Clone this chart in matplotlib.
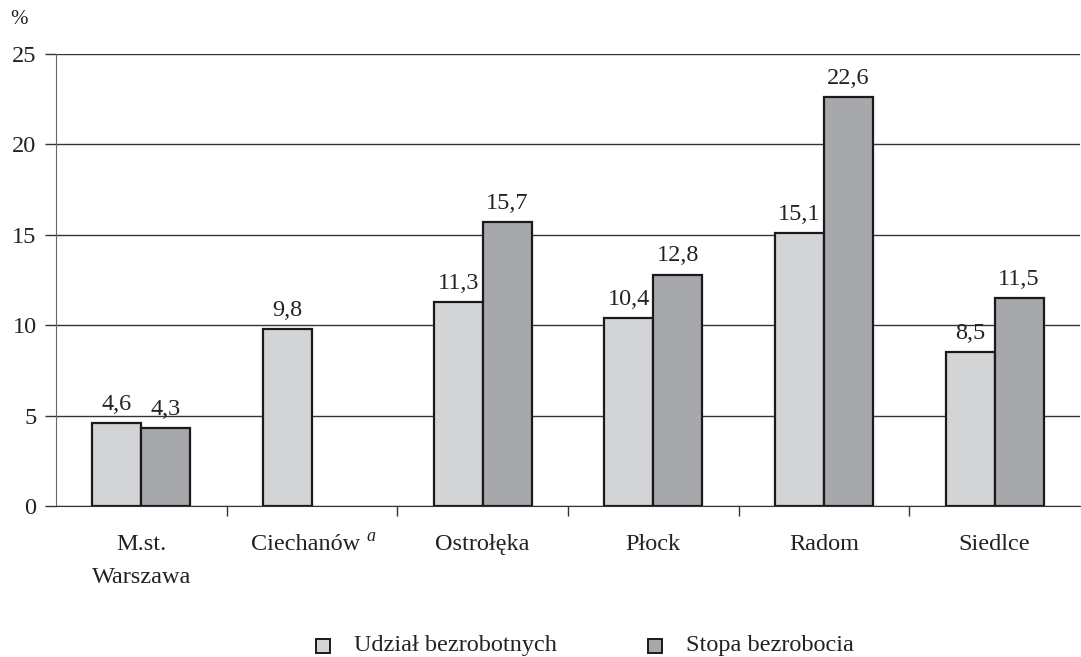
import matplotlib
matplotlib.use("Agg")
import matplotlib.pyplot as plt
from matplotlib.patches import Rectangle
import numpy as np

categories = ["M.st.\nWarszawa", "Ciechanów", "Ostrołęka", "Płock", "Radom", "Siedlce"]
udzial = [4.6, 9.8, 11.3, 10.4, 15.1, 8.5]
stopa = [4.3, None, 15.7, 12.8, 22.6, 11.5]
series_names = ["Udział bezrobotnych", "Stopa bezrobocia"]
yticks = [0, 5, 10, 15, 20, 25]

plt.rcParams["font.family"] = ["Liberation Serif", "DejaVu Serif"]
light = "#d3d4d6"
dark = "#a7a8ab"
ink = "#222"

fig = plt.figure(figsize=(10.81, 6.57), dpi=100)
ax = fig.add_axes([56 / 1081, 1 - 506 / 657, 1024 / 1081, 452 / 657])

x = np.arange(len(categories))
w = 0.287
for i in range(len(categories)):
    v = udzial[i]
    ax.bar(x[i] - w / 2, v, w, color=light, edgecolor="#1a1a1a", linewidth=1.6, zorder=3)
    ax.text(x[i] - w / 2, v + 0.45, f"{v:.1f}".replace(".", ","), ha="center", va="bottom",
            fontsize=17.5, color=ink)
    s = stopa[i]
    if s is not None:
        ax.bar(x[i] + w / 2, s, w, color=dark, edgecolor="#1a1a1a", linewidth=1.6, zorder=3)
        ax.text(x[i] + w / 2, s + 0.45, f"{s:.1f}".replace(".", ","), ha="center", va="bottom",
                fontsize=17.5, color=ink)

ax.set_xlim(-0.5, len(categories) - 0.5)
ax.set_ylim(0, 25)
ax.set_yticks(yticks)
ax.set_yticklabels([str(t) for t in yticks], fontsize=17.5, color=ink)
ax.yaxis.grid(True, color="#333", linewidth=1.0, zorder=0)
ax.set_axisbelow(True)

ax.set_xticks(np.arange(len(categories) - 1) + 0.5)
ax.set_xticklabels([])
ax.tick_params(axis="x", length=7, width=1, color="#333", direction="out")
ax.tick_params(axis="y", length=8, width=1, color="#333", direction="out", pad=6)

# category names below the axis; Ciechanów carries a footnote mark
for i, c in enumerate(categories):
    dx = -0.04 if i == 1 else 0.0
    ax.text(x[i] + dx, -1.55, c, ha="center", va="top", fontsize=17.5, color=ink, linespacing=1.75)
ax.text(x[1] + 0.345, -1.2, "a", ha="center", va="top", fontsize=13, style="italic", color=ink)

for side in ["top", "right"]:
    ax.spines[side].set_visible(False)
ax.spines["left"].set_color("#666")
ax.spines["bottom"].set_color("#333")

fig.text(19 / 1081, 1 - 20 / 657, "%", ha="center", va="center", fontsize=15, color=ink)

# legend at the bottom
for px, col, name in [(316, light, series_names[0]), (648, dark, series_names[1])]:
    fig.patches.append(Rectangle((px / 1081, 1 - 653 / 657), 14 / 1081, 14 / 657,
                                 transform=fig.transFigure, facecolor=col,
                                 edgecolor="#1a1a1a", linewidth=1.4))
    fig.text((px + 38) / 1081, 1 - 645 / 657, name, ha="left", va="center", fontsize=17.5, color=ink)

fig.savefig("out.png", dpi=100)
